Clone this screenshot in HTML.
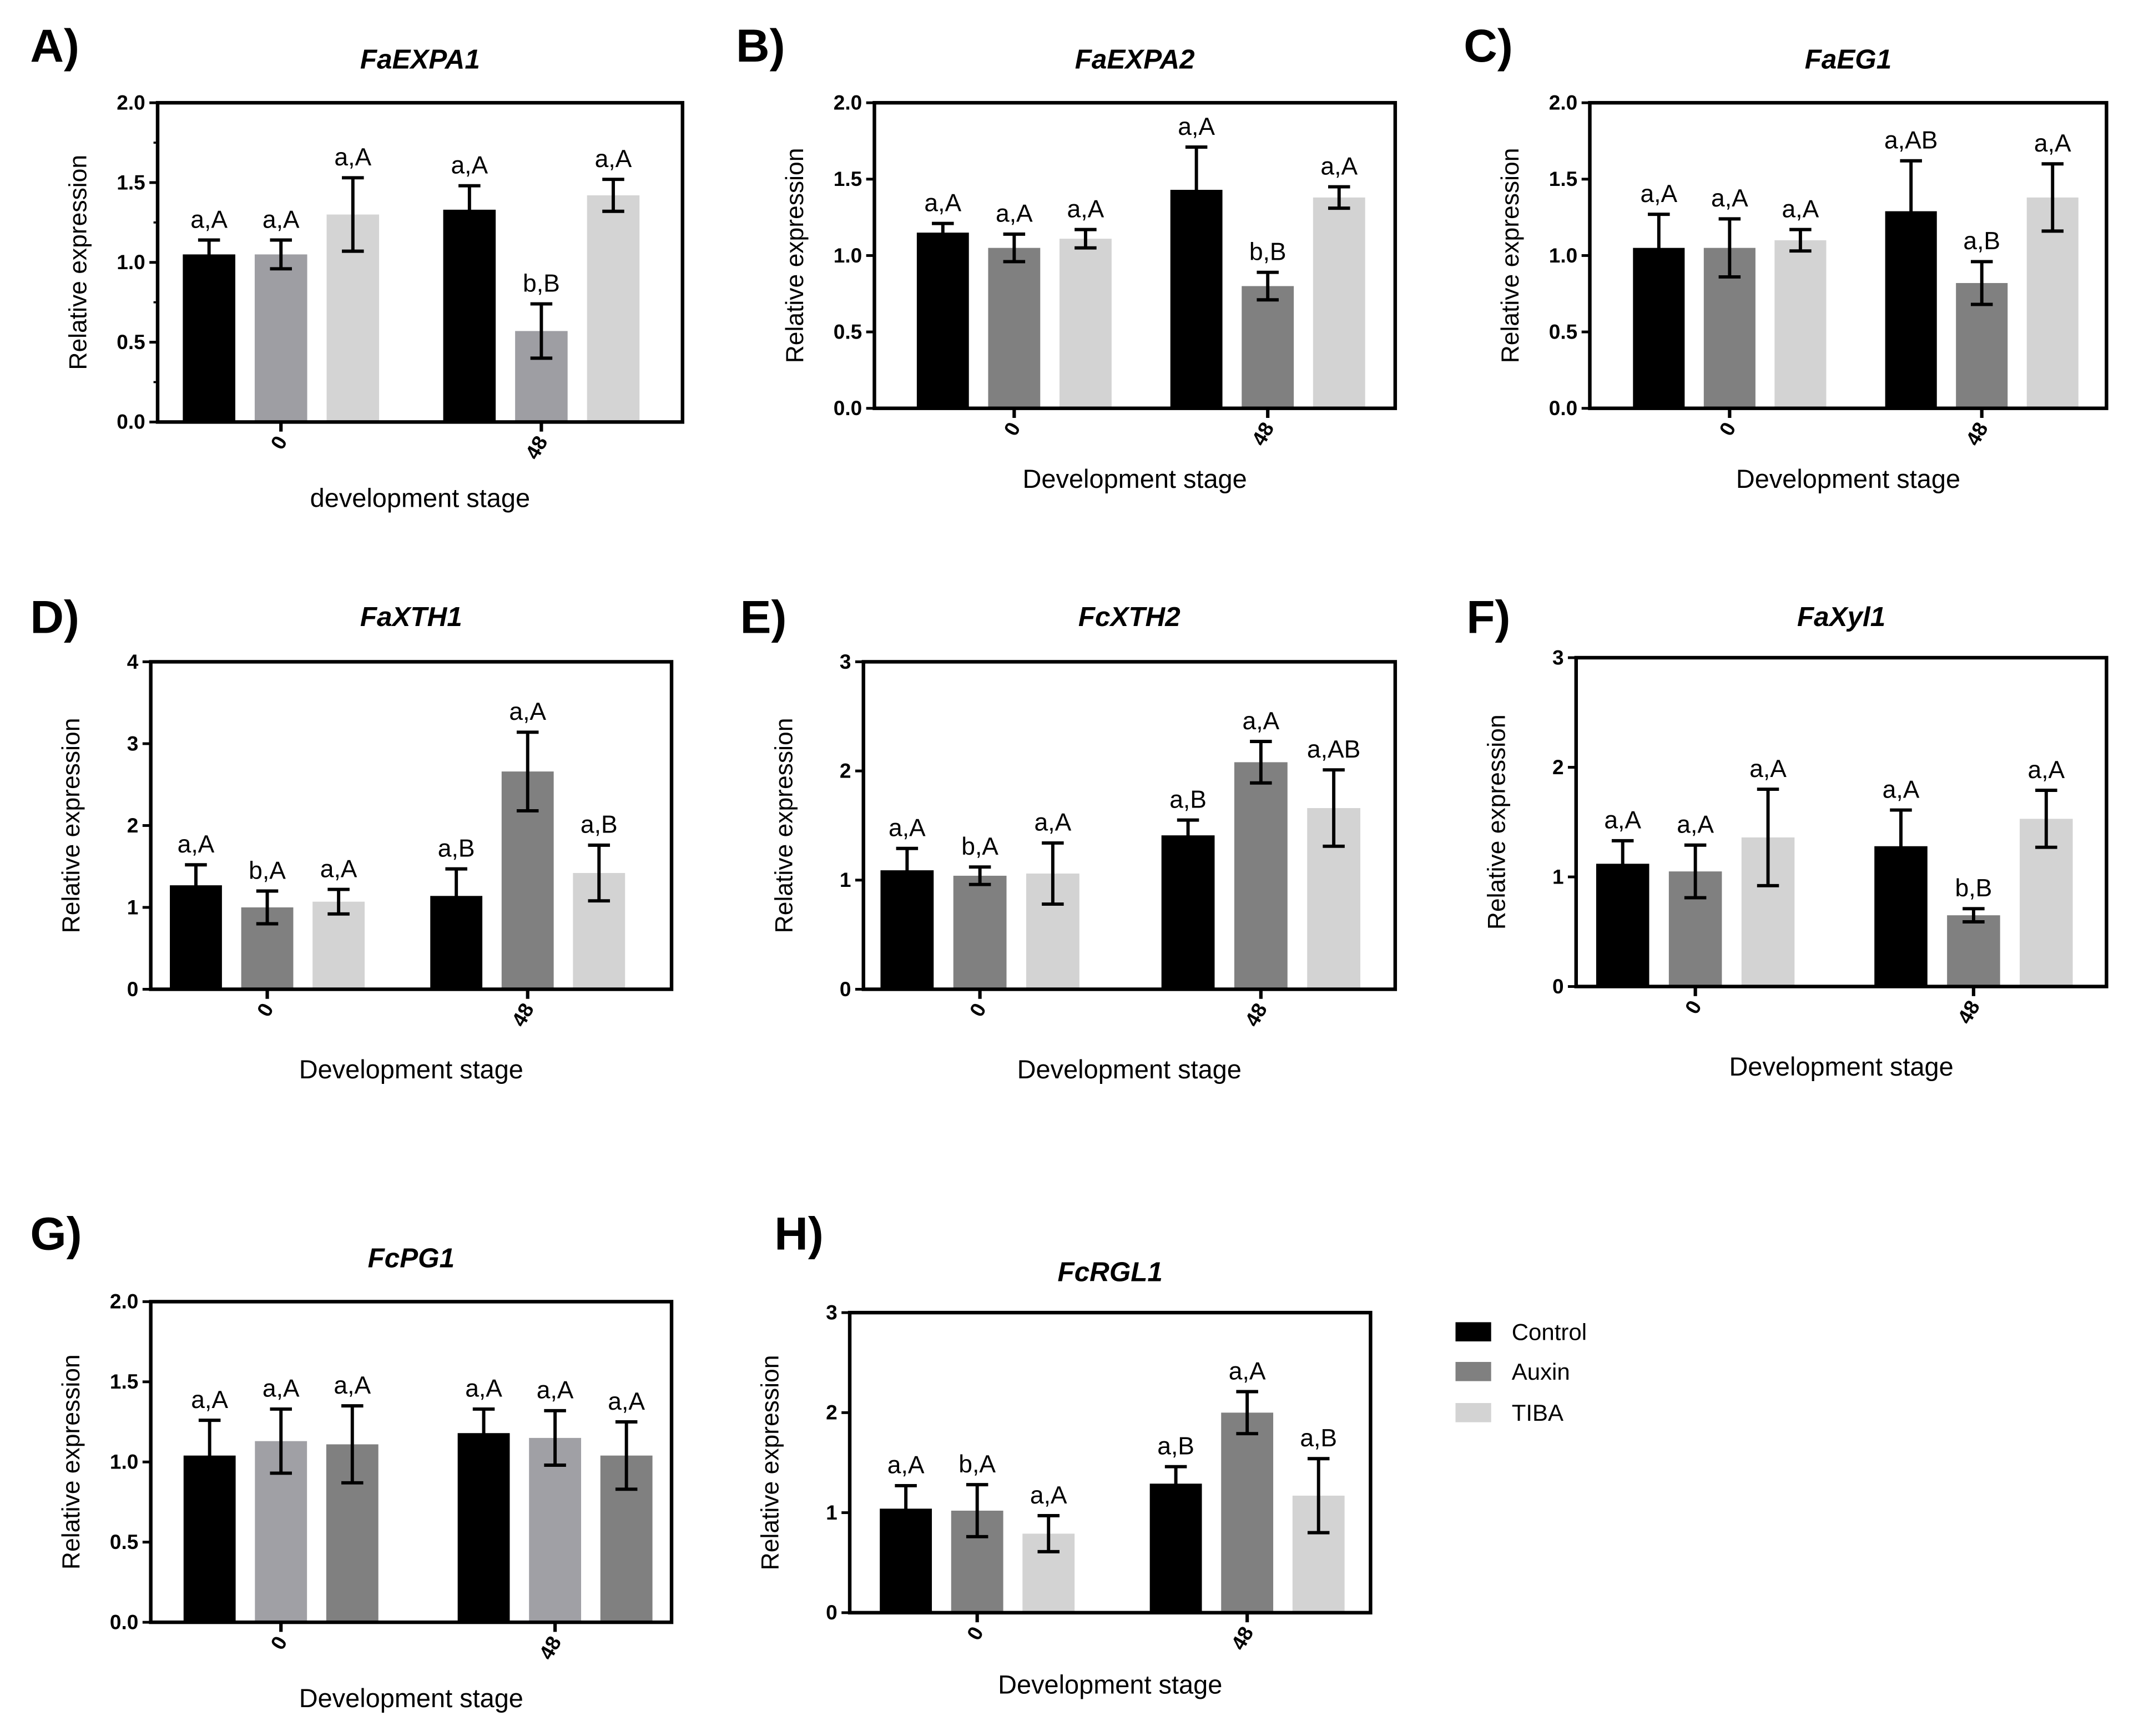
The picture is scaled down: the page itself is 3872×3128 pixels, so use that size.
<!DOCTYPE html>
<html><head><meta charset="utf-8"><style>
html,body{margin:0;padding:0;background:#fff}
svg{display:block}
text{font-family:"Liberation Sans",Arial,sans-serif}
</style></head><body>
<svg id="fig" width="3872" height="3128" viewBox="0 0 1568 1267" preserveAspectRatio="none" xmlns="http://www.w3.org/2000/svg"></svg>
<script>
const categories = ["0", "48"];
const seriesNames = ["Control", "Auxin", "TIBA"];
const titles = ["FaEXPA1","FaEXPA2","FaEG1","FaXTH1","FcXTH2","FaXyl1","FcPG1","FcRGL1"];
const panelLetters = ["A)","B)","C)","D)","E)","F)","G)","H)"];
const yMaxes = [2,2,2,4,3,3,2,3];
const yTickLabelsA = ["0.0","0.5","1.0","1.5","2.0"];
const yTickLabels4 = ["0","1","2","3","4"];
const yTickLabels3 = ["0","1","2","3"];
const xTitles = ["development stage","Development stage","Development stage","Development stage","Development stage","Development stage","Development stage","Development stage"];
const valuesA = [1.05,1.05,1.30,1.33,0.57,1.42];
const errorsA = [0.09,0.09,0.23,0.15,0.17,0.10];
const labelsA = ["a,A","a,A","a,A","a,A","b,B","a,A"];
const valuesB = [1.15,1.05,1.11,1.43,0.80,1.38];
const errorsB = [0.06,0.09,0.06,0.28,0.09,0.07];
const labelsB = ["a,A","a,A","a,A","a,A","b,B","a,A"];
const valuesC = [1.05,1.05,1.10,1.29,0.82,1.38];
const errorsC = [0.22,0.19,0.07,0.33,0.14,0.22];
const labelsC = ["a,A","a,A","a,A","a,AB","a,B","a,A"];
const valuesD = [1.27,1.00,1.07,1.14,2.66,1.42];
const errorsD = [0.25,0.20,0.15,0.33,0.48,0.34];
const labelsD = ["a,A","b,A","a,A","a,B","a,A","a,B"];
const valuesE = [1.09,1.04,1.06,1.41,2.08,1.66];
const errorsE = [0.20,0.08,0.28,0.14,0.19,0.35];
const labelsE = ["a,A","b,A","a,A","a,B","a,A","a,AB"];
const valuesF = [1.12,1.05,1.36,1.28,0.65,1.53];
const errorsF = [0.21,0.24,0.44,0.33,0.06,0.26];
const labelsF = ["a,A","a,A","a,A","a,A","b,B","a,A"];
const valuesG = [1.04,1.13,1.11,1.18,1.15,1.04];
const errorsG = [0.22,0.20,0.24,0.15,0.17,0.21];
const labelsG = ["a,A","a,A","a,A","a,A","a,A","a,A"];
const valuesH = [1.04,1.02,0.79,1.29,2.00,1.17];
const errorsH = [0.23,0.26,0.18,0.17,0.21,0.37];
const labelsH = ["a,A","b,A","a,A","a,B","a,A","a,B"];

const allValues=[valuesA,valuesB,valuesC,valuesD,valuesE,valuesF,valuesG,valuesH];
const allErrors=[errorsA,errorsB,errorsC,errorsD,errorsE,errorsF,errorsG,errorsH];
const allLabels=[labelsA,labelsB,labelsC,labelsD,labelsE,labelsF,labelsG,labelsH];
const allTicks=[yTickLabelsA,yTickLabelsA,yTickLabelsA,yTickLabels4,yTickLabels3,yTickLabels3,yTickLabelsA,yTickLabels3];

// layout (not data)
const boxes=[[115,498,75,308,205,395,50,22,45,370],[638,1018,75,298,740,925,50,537,45,356],[1160,1537,75,298,1262,1446,50,1068,45,356],
[110,490,483,722,195,385,457,22,462,787],[630,1018,483,722,715,920,457,540,462,787],[1150,1537,480,720,1237,1440,457,1070,462,785],
[110,490,950,1184,205,405,925,22,912,1246],[620,1000,958,1177,713,910,935,565,912,1236]];
const colorSets=[["#000","#9e9ea3","#d4d4d4"],["#000","#808080","#d3d3d3"],["#000","#808080","#d3d3d3"],["#000","#808080","#d3d3d3"],
["#000","#808080","#d3d3d3"],["#000","#808080","#d3d3d3"],["#000","#a0a0a5","#808080"],["#000","#808080","#d3d3d3"]];

const svg=document.getElementById('fig');
const NS="http://www.w3.org/2000/svg";
function mk(tag,attrs,txt){const e=document.createElementNS(NS,tag);for(const k in attrs)e.setAttribute(k,attrs[k]);if(txt!==undefined)e.textContent=txt;svg.appendChild(e);return e;}

for(let p=0;p<8;p++){
  const [L,R,T,B,c0,c1,ty,lx,ly,xly]=boxes[p];
  const ymax=yMaxes[p];
  const y=v=>B-(v/ymax)*(B-T);
  const gx=[c0,c1];
  const off=(R-L)*0.137, bw=(R-L)*0.1;
  const colors=colorSets[p];
  let e;
  e=mk('text',{x:lx,y:ly,'font-size':34,'font-weight':'bold'},panelLetters[p]);
  
  
  e=mk('text',{x:(L+R)/2,y:ty,'font-size':20,'font-weight':'bold','font-style':'italic','text-anchor':'middle'},titles[p]);
  
  
  for(let g=0;g<2;g++){for(let s=0;s<3;s++){
    const i=g*3+s, v=allValues[p][i], er=allErrors[p][i];
    const cx=gx[g]+(s-1)*off;
    e=mk('rect',{x:cx-bw/2,y:y(v),width:bw,height:B-y(v),fill:colors[s]});
    
    
    const yt=y(v+er), yb=y(v-er);
    e=mk('path',{d:`M${cx} ${yt}V${yb}M${cx-8} ${yt}H${cx+8}M${cx-8} ${yb}H${cx+8}`,stroke:'#000','stroke-width':2.4,fill:'none'});
    
    
    e=mk('text',{x:cx,y:yt-9,'font-size':18,'text-anchor':'middle'},allLabels[p][i]);
    
    
  }
    e=mk('line',{x1:gx[g],x2:gx[g],y1:B,y2:B+7,stroke:'#000','stroke-width':2.5});
    
    
    e=mk('text',{x:0,y:0,'font-size':15,'font-weight':'bold','text-anchor':'end',transform:`translate(${gx[g]+5},${B+14}) rotate(-60)`},categories[g]);
    
    
  }
  e=mk('rect',{x:L,y:T,width:R-L,height:B-T,fill:'none',stroke:'#000','stroke-width':2.6});
  
  
  const ticks=allTicks[p], n=ticks.length-1;
  for(let k=0;k<=n;k++){
    const v=ymax*k/n, yy=y(v);
    e=mk('line',{x1:L-6,x2:L,y1:yy,y2:yy,stroke:'#000','stroke-width':2});
    
    
    e=mk('text',{x:L-9,y:yy+5,'font-size':15,'font-weight':'bold','text-anchor':'end'},ticks[k]);
    
    
    if(p===0&&k<n){const ym=y(v+ymax/n/2);mk('line',{x1:L-3,x2:L,y1:ym,y2:ym,stroke:'#000','stroke-width':1.5});}
  }
  e=mk('text',{x:0,y:0,'font-size':18,'text-anchor':'middle',transform:`translate(${L-52},${(T+B)/2}) rotate(-90)`},'Relative expression');
  
  
  e=mk('text',{x:(L+R)/2,y:xly,'font-size':19,'text-anchor':'middle'},xTitles[p]);
  
  
}
const legColors=["#000","#808080","#d3d3d3"];
const legY=[972,1001,1031];
for(let s=0;s<3;s++){
  let e=mk('rect',{x:1062,y:legY[s]-7,width:26,height:14,fill:legColors[s]});
  
  
  e=mk('text',{x:1103,y:legY[s]+6,'font-size':17},seriesNames[s]);
  
  
}
</script>
</body></html>
